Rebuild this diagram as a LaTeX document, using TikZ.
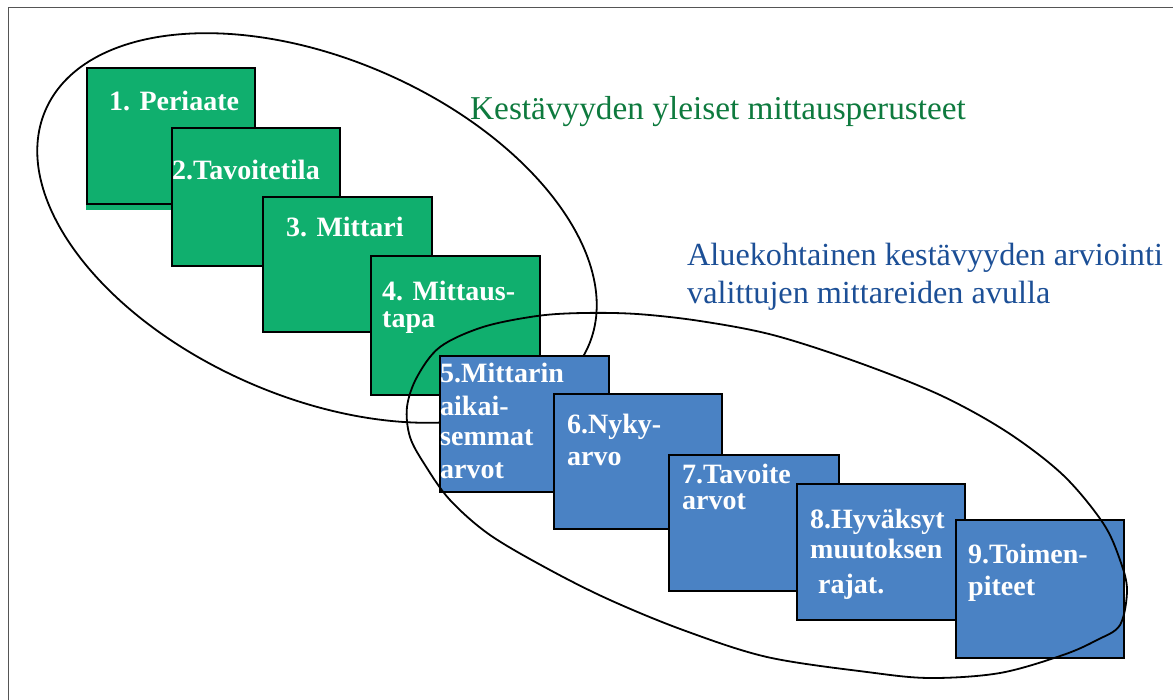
\documentclass[tikz,border=0pt]{standalone}
\usepackage{fontspec}
\setmainfont{Liberation Serif}
\definecolor{boxgreen}{HTML}{10AF6E}
\definecolor{boxblue}{HTML}{4A82C4}
\definecolor{titlegreen}{HTML}{0E7A3E}
\definecolor{titleblue}{HTML}{1C4F96}
\definecolor{framegray}{HTML}{555555}
\tikzset{
  gbox/.style={draw=black, line width=1.8pt, fill=boxgreen, inner sep=0pt, minimum width=168pt, minimum height=136pt},
  bbox/.style={draw=black, line width=1.8pt, fill=boxblue, inner sep=0pt, minimum width=168pt, minimum height=136pt},
  lbl/.style={text=white, inner sep=0pt, anchor=base west, font=\fontsize{28}{30}\selectfont\bfseries},
  gtitle/.style={text=titlegreen, inner sep=0pt, anchor=base west, font=\fontsize{33.3}{36}\selectfont},
  btitle/.style={text=titleblue, inner sep=0pt, anchor=base west, font=\fontsize{32.2}{35}\selectfont},
  loop/.style={draw=black, line width=1.8pt},
}
\begin{document}
\begin{tikzpicture}[x=1pt,y=-1pt]
\useasboundingbox (0,0) rectangle (1173,699);
% frame (only top and left edges visible)
\draw[framegray, line width=1.5pt] (8.5,700) -- (8.5,7.5) -- (1174,7.5);
% first ellipse (behind the boxes)
\draw[loop, shift={(317,228)}, rotate=-23.5] (0,0) ellipse [x radius=296pt, y radius=169pt];
% boxes
\fill[boxgreen] (86,72) rectangle (250,210);
\node[gbox] (b1) at (171,136) {};
\node[gbox, minimum height=138pt] (b2) at (256,197) {};
\node[gbox, minimum width=169pt, minimum height=135pt] (b3) at (347.5,264.5) {};
\node[gbox, minimum width=169pt, minimum height=139pt] (b4) at (455.5,325.5) {};
\node[bbox, minimum width=169pt] (b5) at (524.5,424) {};
\node[bbox, minimum height=135pt] (b6) at (638,461.5) {};
\node[bbox, minimum width=170pt] (b7) at (754,523) {};
\node[bbox] (b8) at (881,552) {};
\node[bbox, minimum height=138pt] (b9) at (1040,589) {};
% second ellipse (over the boxes)
\draw[loop] plot[smooth cycle, tension=0.55] coordinates {
 (407,407) (417,377) (440,347) (483,327) (537,316) (583,313) (637,314) (700,321)
 (773,335) (857,362) (940,395) (1007,432) (1063,475) (1103,523) (1120,560) (1127,590)
 (1120,625) (1097,640) (1063,655) (1000,673) (930,678) (867,672) (767,657)
 (683,630) (610,600) (550,570) (490,535) (450,500) (425,465) (410,437)};
% box labels
\node[lbl] (t1) at (109,110) {1. Periaate};
\node[lbl] (t2) at (172,179) {2.Tavoitetila};
\node[lbl] (t3) at (286,236) {3. Mittari};
\node[lbl] (t4a) at (382,300) {4. Mittaus-};
\node[lbl] (t4b) at (382,327) {tapa};
\node[lbl] (t5a) at (440,382) {5.Mittarin};
\node[lbl] (t5b) at (440,415) {aikai-};
\node[lbl] (t5c) at (440,445) {semmat};
\node[lbl] (t5d) at (440,478) {arvot};
\node[lbl] (t6a) at (567,433) {6.Nyky-};
\node[lbl] (t6b) at (567,465) {arvo};
\node[lbl] (t7a) at (682,483) {7.Tavoite};
\node[lbl] (t7b) at (682,509) {arvot};
\node[lbl] (t8a) at (810,528) {8.Hyväksyt};
\node[lbl] (t8b) at (810,558) {muutoksen};
\node[lbl] (t8c) at (818,593) {rajat.};
\node[lbl] (t9a) at (968,563) {9.Toimen-};
\node[lbl] (t9b) at (968,595) {piteet};
% titles
\node[gtitle] (g1) at (470,119) {Kestävyyden yleiset mittausperusteet};
\node[btitle] (h1) at (687,265) {Aluekohtainen kestävyyden arviointi};
\node[btitle] (h2) at (687,303) {valittujen mittareiden avulla};
\end{tikzpicture}
\end{document}
